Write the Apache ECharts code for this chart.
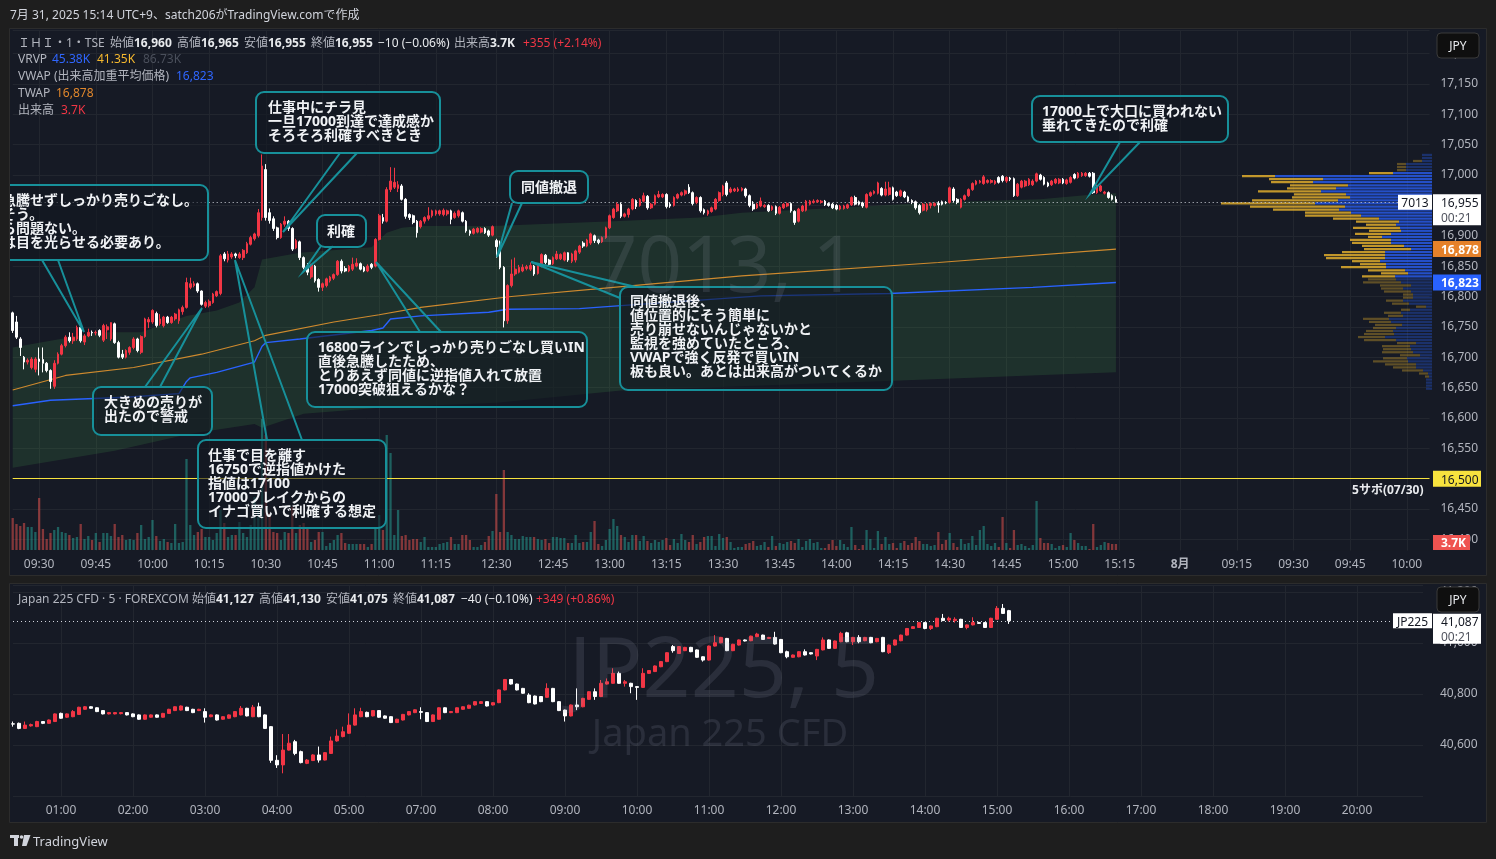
<!DOCTYPE html>
<html><head><meta charset="utf-8">
<script src="https://cdn.jsdelivr.net/npm/echarts@6/dist/echarts.min.js"></script>
<style>html,body{margin:0;padding:0;background:#1e1e1e;}#c{width:1496px;height:859px;}</style>
</head><body><div id="c"></div>
<script>
const FONT = '"Noto Sans","Noto Sans CJK JP",sans-serif';

// ---------- time slots (categories) ----------
const ihiSessionsDay1 = [['09:23','11:30'],['12:30','15:30']];
const ihiSessionsDay2 = [['09:00','10:06']];
const ihiTickLabels = ['09:30','09:45','10:00','10:15','10:30','10:45','11:00','11:15','12:30','12:45','13:00','13:15','13:30','13:45','14:00','14:15','14:30','14:45','15:00','15:15','8/1 09:00','8/1 09:15','8/1 09:30','8/1 09:45','8/1 10:00'];
const jpSessions = [['00:20','05:55'],['07:00','20:55']];
const jpTickLabels = ['01:00','02:00','03:00','04:00','05:00','07:00','08:00','09:00','10:00','11:00','12:00','13:00','14:00','15:00','16:00','17:00','18:00','19:00','20:00'];

// ---------- IHI 1-minute candles [open, close, low, high] ----------
const ihiOHLC = [
[16773,16744,16740,16775],[16758,16733,16730,16768],[16730,16716,16702,16733],[16700,16692,16680,16702],[16692,16695,16688,16698],
[16683,16697,16680,16700],[16680,16697,16675,16700],[16697,16693,16670,16716],[16696,16690,16675,16716],[16690,16678,16675,16692],
[16678,16660,16648,16680],[16652,16690,16648,16695],[16690,16705,16688,16708],[16705,16719,16703,16722],[16719,16733,16716,16736],
[16733,16727,16724,16741],[16727,16733,16722,16740],[16730,16749,16727,16752],[16749,16727,16724,16752],[16725,16735,16720,16738],
[16735,16741,16733,16747],[16741,16740,16735,16744],[16740,16741,16736,16744],[16744,16736,16733,16746],[16728,16752,16725,16755],
[16745,16750,16730,16754],[16730,16757,16727,16757],[16755,16724,16722,16757],[16724,16700,16698,16727],[16705,16700,16697,16712],
[16700,16711,16698,16713],[16708,16716,16704,16718],[16716,16730,16713,16733],[16730,16711,16708,16732],[16708,16734,16705,16736],
[16734,16763,16732,16765],[16758,16762,16748,16766],[16758,16777,16755,16779],[16772,16752,16749,16775],[16755,16763,16752,16771],
[16752,16766,16749,16768],[16766,16757,16755,16768],[16757,16766,16755,16768],[16763,16771,16760,16773],[16760,16778,16755,16780],
[16775,16782,16770,16785],[16782,16823,16780,16831],[16815,16821,16812,16831],[16818,16821,16815,16825],[16821,16809,16806,16823],
[16809,16787,16785,16810],[16784,16790,16781,16793],[16785,16792,16782,16795],[16790,16804,16788,16806],[16801,16808,16799,16810],
[16805,16867,16802,16870],[16870,16862,16858,16873],[16860,16870,16856,16875],[16865,16870,16862,16873],[16870,16867,16863,16872],
[16864,16870,16862,16873],[16864,16876,16860,16878],[16872,16887,16870,16890],[16886,16897,16884,16900],[16895,16903,16892,16905],
[16900,16938,16897,16944],[16930,17015,16925,17034],[17009,16930,16925,17018],[16938,16925,16920,16945],[16928,16912,16908,16932],
[16913,16897,16894,16915],[16897,16919,16895,16921],[16919,16924,16915,16932],[16924,16912,16908,16926],[16912,16878,16875,16914],
[16880,16892,16878,16895],[16890,16864,16860,16892],[16864,16848,16845,16866],[16850,16840,16835,16855],[16832,16852,16829,16854],
[16850,16826,16823,16852],[16828,16815,16808,16830],[16815,16821,16809,16823],[16818,16829,16815,16831],[16826,16832,16823,16834],
[16830,16836,16827,16838],[16836,16858,16834,16860],[16858,16842,16838,16861],[16846,16842,16840,16850],[16842,16850,16840,16852],
[16845,16853,16842,16864],[16850,16855,16848,16863],[16854,16845,16843,16856],[16848,16842,16840,16850],[16842,16850,16840,16853],
[16853,16848,16845,16855],[16850,16894,16848,16896],[16894,16933,16892,16936],[16930,16924,16920,16936],[16924,16976,16922,16980],
[16976,16990,16972,17013],[16980,16988,16977,17012],[16978,16984,16972,16990],[16982,16960,16958,16985],[16960,16932,16928,16962],
[16935,16930,16926,16937],[16933,16922,16919,16935],[16924,16905,16897,16926],[16915,16924,16912,16926],[16924,16930,16920,16932],
[16928,16933,16925,16947],[16933,16941,16930,16943],[16936,16941,16933,16943],[16936,16941,16933,16943],[16935,16942,16932,16945],
[16936,16941,16933,16943],[16941,16927,16919,16943],[16930,16937,16928,16940],[16933,16941,16930,16943],[16938,16924,16922,16940],
[16924,16908,16905,16926],[16908,16904,16900,16910],[16904,16911,16902,16913],[16906,16912,16904,16914],[16906,16912,16904,16914],
[16912,16905,16903,16914],[16908,16901,16898,16910],[16901,16915,16899,16917],[16892,16882,16864,16895],[16882,16848,16845,16892],
[16848,16760,16749,16850],[16760,16818,16755,16820],[16818,16837,16815,16861],[16837,16845,16834,16864],[16840,16848,16838,16852],
[16842,16848,16840,16853],[16846,16849,16843,16852],[16845,16851,16842,16856],[16850,16837,16834,16852],[16838,16851,16836,16853],
[16850,16869,16848,16871],[16868,16856,16853,16870],[16860,16853,16850,16862],[16854,16864,16852,16866],[16862,16870,16860,16875],
[16862,16869,16860,16871],[16860,16872,16858,16874],[16872,16860,16857,16873],[16858,16870,16855,16872],[16860,16875,16856,16877],
[16873,16883,16870,16885],[16888,16883,16880,16891],[16883,16893,16881,16895],[16888,16903,16885,16905],[16900,16892,16888,16902],
[16893,16889,16886,16895],[16890,16897,16888,16899],[16897,16913,16895,16915],[16913,16933,16911,16935],[16930,16944,16928,16946],
[16941,16952,16939,16955],[16952,16932,16929,16955],[16932,16936,16930,16938],[16935,16944,16930,16946],[16944,16960,16942,16962],
[16958,16948,16944,16960],[16950,16960,16948,16962],[16957,16966,16955,16971],[16965,16946,16943,16967],[16946,16952,16944,16954],
[16952,16966,16950,16968],[16964,16968,16962,16974],[16964,16968,16962,16970],[16968,16948,16945,16970],[16952,16949,16946,16955],
[16950,16963,16948,16965],[16962,16968,16960,16970],[16967,16971,16965,16973],[16969,16974,16966,16976],[16980,16971,16969,16985],
[16971,16953,16950,16973],[16955,16963,16952,16965],[16963,16941,16938,16965],[16943,16938,16935,16945],[16936,16941,16933,16943],
[16940,16946,16938,16948],[16944,16960,16942,16962],[16958,16971,16956,16973],[16968,16982,16965,16984],[16987,16968,16965,16990],
[16972,16977,16970,16980],[16974,16977,16972,16979],[16974,16977,16972,16980],[16975,16978,16973,16980],[16977,16966,16963,16979],
[16966,16950,16947,16968],[16952,16944,16941,16957],[16946,16952,16944,16954],[16949,16957,16947,16963],[16948,16950,16946,16952],
[16950,16941,16939,16952],[16943,16948,16941,16950],[16948,16937,16934,16950],[16937,16947,16935,16949],[16946,16952,16944,16954],
[16949,16953,16947,16955],[16953,16941,16938,16955],[16940,16922,16918,16942],[16924,16944,16922,16946],[16941,16949,16939,16951],
[16942,16957,16940,16959],[16952,16957,16950,16959],[16955,16957,16953,16960],[16956,16958,16954,16960],[16955,16957,16953,16959],
[16957,16951,16949,16959],[16953,16950,16948,16955],[16952,16946,16944,16954],[16950,16944,16942,16952],[16944,16949,16942,16951],
[16945,16949,16943,16951],[16946,16951,16944,16953],[16951,16963,16949,16965],[16963,16952,16950,16966],[16956,16952,16950,16958],
[16954,16949,16946,16956],[16947,16968,16945,16970],[16966,16971,16964,16973],[16970,16973,16968,16975],[16970,16987,16968,16989],
[16978,16967,16965,16980],[16967,16977,16965,16989],[16968,16979,16966,16989],[16979,16960,16958,16981],[16972,16966,16964,16974],
[16966,16974,16964,16976],[16972,16964,16962,16974],[16964,16957,16955,16966],[16958,16955,16952,16960],[16956,16946,16943,16958],
[16950,16938,16935,16952],[16942,16952,16940,16954],[16943,16952,16940,16954],[16950,16953,16945,16955],[16950,16953,16948,16955],
[16953,16951,16938,16957],[16956,16952,16950,16958],[16955,16954,16952,16957],[16955,16979,16953,16981],[16977,16958,16955,16980],
[16960,16955,16952,16962],[16947,16960,16945,16962],[16960,16966,16958,16968],[16966,16976,16964,16978],[16976,16986,16974,16988],
[16985,16990,16983,16992],[16988,16990,16986,16992],[16986,16997,16984,17000],[16988,16991,16986,16993],[16988,16991,16986,16993],
[16986,16990,16984,16992],[16996,16988,16986,16998],[16998,16991,16988,17000],[16990,16996,16987,16998],[16995,16993,16990,16997],
[16994,16966,16964,16996],[16966,16985,16964,16987],[16980,16990,16978,16992],[16982,16990,16980,16992],[16984,16993,16982,16995],
[16984,16990,16982,16993],[16990,17002,16988,17004],[17000,16993,16991,17002],[16996,16985,16983,16998],[16987,16982,16980,16989],
[16984,16990,16982,16992],[16987,16993,16985,16995],[16987,16993,16985,16995],[16993,16987,16985,16995],[16986,16992,16984,16994],
[16988,16996,16986,16998],[17001,16995,16993,17003],[16996,17003,16994,17005],[16999,17003,16997,17005],[16999,17003,16997,17005],
[17003,16998,16996,17005],[17003,16971,16969,17005],[16971,16982,16969,16984],[16974,16982,16972,16984],[16970,16972,16968,16974],
[16971,16963,16961,16973],[16966,16960,16958,16968],[16960,16955,16955,16965]
];

// ---------- IHI volume (relative bar heights as read) ----------
const ihiVolume = [
32,26,24,27,23,23,18, 52,
21,11,17,20,23,18,17,15,12,13,26,11,14,10,17,8,17,17,14,26,13,15,10,11,10,17,25,11,13,30,14,9,11,8,7,26,7,8,
91, 25,15,18,21,13,13,10,17, 40, 27,13,15,15,28,17,13,25, 53,40,131,115, 37,18,17,10,18,17, 43,
17,25,27,22,8,10,18,18,4,7,10,15,17,7,6,6,6,6,6,3,6,21,35,20, 115,97,15,40,
14,15,10,11,11,8,13,3,3,3,6,7,8,13,6,6,15,15,10,3,3,5,8,14,19, 56,18,80,
18,15,11,11,14,13,13,13,11,10,11,7,13,13,12,12,7,7,15,7,8,8,
18,29,6,4,10,21,31,24,15,13, 8,15,15,9,14,9,7,10,8,10, 12,5,11,7,16,10,8,15,6,8, 13,14,14,4,16,12,13,8,2,3,
3,6,7,9,4,5,8,3,14,4, 7,6,8,9,7,11,3,9,11,7, 8,2,2,6,10,4,10,6,3,23, 5,1,5,20,11,2,19,6,13,6,
7,2,7,9,5,7,13,9,6,6, 4,5,18,6,10,17,7,3,11,6, 7,14,5,20,24,6,4,7,3,33, 7,2,20,5,6,4,2,5,49,12,
7,7,6,2,4,5,3,17,10,7, 4,4,1,26,3,5,8,7,6,6
];

// ---------- VWAP / TWAP / VWAP band anchors [slotIndex, price] ----------
const vwapLine = [[0,16620],[10,16629],[30,16634],[44,16640],[46,16660],[47,16666],[54,16675],[64,16692],[66,16718],[67,16724],[76,16730],[95,16744],[98,16748],[100,16763],[108,16768],[126,16774],[131,16779],[150,16780],[161,16785],[198,16801],[232,16805],[270,16815],[292,16823]];
const twapLine = [[0,16646],[14,16670],[32,16683],[50,16705],[64,16727],[67,16736],[85,16758],[97,16770],[108,16782],[132,16800],[159,16815],[193,16834],[245,16856],[292,16878]];
const vwapBandUpper = [[0,16716],[10,16727],[23,16741],[34,16741],[46,16768],[54,16777],[60,16790],[64,16815],[66,16861],[76,16872],[95,16881],[99,16905],[103,16913],[108,16916],[127,16916],[159,16924],[182,16930],[193,16938],[219,16946],[245,16955],[272,16960],[286,16968],[292,16970]];
const vwapBandLower = [[0,16518],[27,16546],[47,16574],[64,16590],[66,16584],[77,16607],[98,16617],[128,16625],[161,16645],[233,16661],[292,16675]];

// ---------- VRVP (volume profile) rows, top row first, 5-yen bins ----------
const profileTopPrice = 17032.5;
const profileStep = 5;
const profileUp = [10,10,10,26,26,26,39,157,109,119,84,96,111,86,82,94,117,87,93,81,71,53,33,36,32,31,41,50,41,41,28,21,47,47,47,52,46,46,27,24,37,36,31,21,29,21,19,19,29,23,6,22,31,29,43,41,30,36,39,38,47,36,16,22,21,19,12,25,24,16,16,9,4,3,6,6,6,6];
const profileDown = [0,0,9,9,9,9,24,33,54,42,58,49,63,52,58,86,94,95,66,46,56,46,43,30,47,32,36,14,41,39,42,47,43,61,59,28,26,45,37,27,33,28,38,31,22,27,10,10,17,17,10,9,17,15,26,22,27,23,27,30,27,32,19,28,28,31,20,24,35,31,23,21,9,4,0,0,0,0];
const vaHigh = 17005, vaLow = 16832;

// ---------- JP225 5-minute candles [open, close, low, high] ----------
const jp225OHLC = [
[40683,40682,40672,40692],[40685,40665,40662,40688],[40665,40678,40663,40692],[40675,40680,40672,40684],[40672,40692,40670,40695],
[40692,40685,40682,40694],[40685,40698,40683,40700],[40692,40722,40690,40724],[40724,40705,40703,40727],[40709,40722,40706,40724],
[40711,40731,40709,40737],[40720,40748,40718,40750],[40740,40750,40738,40753],[40750,40744,40742,40752],[40746,40731,40729,40748],
[40735,40722,40720,40737],[40722,40727,40720,40729],[40722,40727,40720,40729],[40723,40727,40720,40729],[40727,40718,40716,40729],
[40722,40711,40709,40724],[40718,40701,40699,40720],[40701,40718,40699,40720],[40709,40718,40707,40720],[40718,40709,40707,40720],
[40709,40724,40707,40726],[40724,40740,40722,40742],[40735,40750,40733,40752],[40737,40753,40735,40755],[40748,40735,40733,40750],
[40740,40727,40725,40742],[40735,40740,40733,40742],[40731,40709,40688,40744],[40711,40718,40709,40720],[40718,40698,40696,40720],
[40701,40711,40699,40713],[40705,40718,40703,40720],[40711,40731,40709,40733],[40718,40744,40716,40753],[40744,40714,40712,40746],
[40711,40748,40709,40757],[40750,40711,40709,40766],[40718,40665,40663,40720],[40672,40540,40530,40674],[40540,40522,40510,40560],
[40522,40580,40489,40643],[40580,40607,40578,40643],[40613,40567,40560,40620],[40574,40531,40528,40578],[40528,40541,40525,40545],
[40539,40561,40537,40564],[40561,40541,40531,40594],[40541,40570,40539,40572],[40567,40616,40565,40633],[40616,40635,40613,40661],
[40633,40652,40630,40672],[40646,40678,40643,40724],[40678,40718,40676,40744],[40711,40731,40709,40746],[40728,40711,40709,40731],
[40714,40735,40712,40737],[40735,40709,40707,40737],[40714,40705,40703,40716],[40711,40688,40686,40713],[40688,40701,40686,40703],
[40698,40720,40696,40722],[40718,40731,40716,40733],[40727,40738,40725,40740],[40731,40728,40701,40748],[40727,40692,40690,40729],
[40692,40718,40690,40720],[40701,40746,40699,40748],[40746,40727,40725,40748],[40727,40731,40725,40733],[40727,40746,40725,40748],
[40740,40750,40738,40752],[40744,40756,40742,40758],[40757,40770,40755,40772],[40763,40770,40761,40772],[40770,40753,40751,40772],
[40757,40766,40755,40768],[40766,40816,40764,40818],[40816,40857,40814,40859],[40857,40839,40837,40859],[40839,40816,40814,40841],
[40822,40803,40801,40824],[40796,40766,40764,40803],[40792,40761,40759,40794],[40790,40770,40768,40792],[40787,40822,40785,40842],
[40822,40770,40768,40824],[40770,40735,40733,40772],[40737,40714,40692,40739],[40714,40757,40712,40759],[40757,40750,40737,40822],
[40750,40783,40748,40785],[40779,40809,40777,40811],[40809,40790,40777,40822],[40790,40842,40788,40855],[40839,40848,40837,40861],
[40842,40881,40840,40901],[40881,40842,40840,40888],[40842,40848,40829,40855],[40842,40829,40803,40844],[40829,40826,40777,40831],
[40826,40881,40824,40901],[40881,40892,40879,40894],[40888,40910,40886,40912],[40907,40927,40905,40929],[40927,40962,40925,40964],
[40986,40970,40962,40992],[40959,40986,40957,40988],[40970,40983,40968,40985],[40983,40966,40964,40985],[40973,40944,40942,40975],
[40946,40933,40927,40948],[40933,40988,40931,40990],[40988,41001,40986,41031],[41001,41022,40999,41024],[41018,40970,40968,41020],
[40970,40995,40968,40997],[40992,41012,40990,41014],[41012,41008,41006,41014],[41009,41027,41007,41029],[41025,41035,41023,41040],
[41031,41014,41012,41033],[41018,41022,41016,41024],[41022,40996,40994,41044],[41014,40962,40960,41016],[40966,40946,40940,40970],
[40944,40953,40942,40955],[40946,40966,40944,40968],[40966,40953,40951,40975],[40962,40957,40955,40964],[40949,40975,40933,40977],
[40973,41012,40971,41022],[41012,40979,40977,41014],[40979,41008,40977,41010],[41005,41038,41003,41044],[41040,41005,41003,41044],
[41005,41022,40992,41024],[41022,41005,40999,41031],[41009,41022,41007,41024],[41022,41001,40999,41024],[41005,41018,41003,41020],
[41022,40966,40964,41024],[40962,40992,40957,40994],[40992,41012,40990,41014],[41009,41031,41007,41033],[41031,41057,41029,41059],
[41057,41064,41055,41066],[41061,41080,41059,41082],[41080,41057,41054,41082],[41057,41067,41051,41069],[41064,41097,41062,41099],
[41097,41088,41086,41114],[41090,41097,41084,41103],[41088,41093,41080,41101],[41093,41061,41059,41095],[41061,41071,41054,41073],
[41071,41080,41069,41101],[41080,41077,41075,41083],[41080,41061,41059,41082],[41061,41097,41059,41099],[41093,41136,41091,41145],
[41136,41116,41114,41153],[41127,41087,41075,41130]
];

// ---------- reference levels ----------
const ihiLast = 16955, ihiTwapLast = 16878, ihiVwapLast = 16823, supportLevel = 16500, supportLabel = '5サポ(07/30)';
const jpLast = 41087;

// ---------- helpers ----------
function toMin(s){const [h,m]=s.split(':').map(Number);return h*60+m;}
function fmt(t){const h=Math.floor(t/60),m=t%60;return String(h).padStart(2,'0')+':'+String(m).padStart(2,'0');}
function buildSlots(ranges, step, prefix){const out=[];ranges.forEach(([a,b])=>{for(let t=toMin(a);t<=toMin(b);t+=step)out.push(prefix+fmt(t));});return out;}
const mainCats = buildSlots(ihiSessionsDay1,1,'').concat(buildSlots(ihiSessionsDay2,1,'8/1 '));
const jpCats = buildSlots(jpSessions,5,'');
const ihiTickSet = new Set(ihiTickLabels);
const jpTickSet = new Set(jpTickLabels);

const GRIDC = '#22262f';
const AXC = '#b2b5be';
const UP = '#f23645', DOWN = '#ffffff';
const TEAL = 'rgba(38,166,154,0.5)', REDV = 'rgba(239,83,80,0.5)';

const chart = echarts.init(document.getElementById('c'), null, {renderer:'canvas'});

const candleStyle = {color:UP, color0:DOWN, borderColor:UP, borderColor0:DOWN, borderColorDoji:DOWN, borderWidth:1};

const option = {
  backgroundColor:'#161a25',
  animation:false,
  textStyle:{fontFamily:FONT},
  grid:[
    {left:12.7, right:66.5, top:30, height:539.7},
    {left:12.7, right:66.5, top:410, height:140},
    {left:1132, right:64, top:30, height:539.7},
    {left:13, right:73, top:585, height:211}
  ],
  xAxis:[
    {gridIndex:0, type:'category', data:mainCats, boundaryGap:false, axisLine:{show:false}, axisTick:{show:false}, axisLabel:{show:false},
     splitLine:{show:true, interval:(i,v)=>ihiTickSet.has(v), lineStyle:{color:GRIDC, width:1}}},
    {gridIndex:1, type:'category', data:mainCats, boundaryGap:false, z:6, axisLine:{show:false}, axisTick:{show:false}, splitLine:{show:false},
     axisLabel:{show:true, interval:(i,v)=>ihiTickSet.has(v), color:AXC, fontSize:12, margin:9, fontFamily:FONT,
       formatter:v=> v==='8/1 09:00' ? '{b|8月}' : v.replace('8/1 ',''), rich:{b:{fontWeight:'bold', color:AXC, fontSize:12, fontFamily:FONT}}}},
    {gridIndex:2, type:'value', inverse:true, min:0, max:300, show:false},
    {gridIndex:3, type:'category', data:jpCats, boundaryGap:false, axisLine:{show:false}, axisTick:{show:false},
     splitLine:{show:true, interval:(i,v)=>jpTickSet.has(v), lineStyle:{color:GRIDC}},
     axisLabel:{show:true, interval:(i,v)=>jpTickSet.has(v), color:AXC, fontSize:12, margin:9, fontFamily:FONT}}
  ],
  yAxis:[
    {gridIndex:0, type:'value', position:'right', min:16350, max:17238.9, interval:50, axisLine:{show:false}, axisTick:{show:false},
     splitLine:{lineStyle:{color:GRIDC}},
     axisLabel:{color:AXC, fontSize:12, margin:11, padding:[4,0,0,0], fontFamily:FONT, formatter:v=> (Math.abs(v%50)<1e-6 && v>=16400) ? v.toLocaleString('en-US') : ''}},
    {gridIndex:1, type:'value', min:0, max:140, show:false},
    {gridIndex:2, type:'value', min:16350, max:17238.9, show:false},
    {gridIndex:3, type:'value', position:'right', min:40400, max:41227.5, interval:200, axisLine:{show:false}, axisTick:{show:false},
     splitLine:{lineStyle:{color:GRIDC}},
     axisLabel:{color:AXC, fontSize:12, margin:17, padding:[4,0,0,0], fontFamily:FONT, formatter:v=> (Math.abs(v%200)<1e-6 && v>40400) ? v.toLocaleString('en-US') : ''}}
  ],
  series:[
    {type:'custom', name:'VWAP band', xAxisIndex:0, yAxisIndex:0, data:vwapBandUpper, encode:{x:0,y:1}, z:1, silent:true,
     renderItem:(params, api)=>{
       if(params.dataIndex!==0) return null;
       const pts=[]; vwapBandUpper.forEach(d=>pts.push(api.coord(d)));
       vwapBandLower.slice().reverse().forEach(d=>pts.push(api.coord(d)));
       return {type:'polygon', shape:{points:pts}, style:{fill:'rgba(76,175,80,0.16)'}};
     }},
    {type:'line', name:'VWAP', xAxisIndex:0, yAxisIndex:0, data:vwapLine, symbol:'none', showSymbol:false, z:3, silent:true, lineStyle:{color:'#2962ff', width:1.4}},
    {type:'line', name:'TWAP', xAxisIndex:0, yAxisIndex:0, data:twapLine, symbol:'none', showSymbol:false, z:3, silent:true, lineStyle:{color:'#cf8a2e', width:1.1}},
    {type:'bar', name:'出来高', xAxisIndex:1, yAxisIndex:1, barWidth:2.3, z:2, silent:true,
     data: ihiVolume.map((v,i)=>({value:v, itemStyle:{color: (ihiOHLC[i] && ihiOHLC[i][1]>=ihiOHLC[i][0]) ? TEAL : REDV}}))},
    {type:'candlestick', name:'IHI', xAxisIndex:0, yAxisIndex:0, data:ihiOHLC, barWidth:2.2, z:5, itemStyle:candleStyle, silent:true,
     markLine:{symbol:['none','none'], silent:true, animation:false, data:[
       {yAxis:ihiLast, lineStyle:{type:[1,3], color:'#d1d4dc', width:1}, label:{show:false}},
       {yAxis:supportLevel, lineStyle:{type:'solid', color:'#f7e23e', width:1.2},
        label:{show:true, position:'insideEndBottom', formatter:supportLabel, color:'#e8eaed', fontWeight:'bold', fontSize:12, fontFamily:FONT, distance:6}}
     ]}},
    {type:'custom', name:'VRVP', xAxisIndex:2, yAxisIndex:2, encode:{x:0,y:1}, z:4, silent:true,
     data: profileUp.map((u,i)=>[u, profileTopPrice - i*profileStep, profileDown[i]]),
     renderItem:(params, api)=>{
       const up=api.value(0), p=api.value(1), dn=api.value(2);
       const base=api.coord([0,p]), pu=api.coord([up,p]), pd=api.coord([up+dn,p]);
       const yt=api.coord([0,p+profileStep/2])[1], yb=api.coord([0,p-profileStep/2])[1];
       const h=Math.max(1,yb-yt-0.8);
       const va = p<=vaHigh && p>=vaLow;
       return {type:'group', children:[
         {type:'rect', shape:{x:pu[0], y:yt, width:base[0]-pu[0], height:h}, style:{fill: va?'rgba(41,98,255,0.75)':'rgba(41,98,255,0.32)'}},
         {type:'rect', shape:{x:pd[0], y:yt, width:pu[0]-pd[0], height:h}, style:{fill: va?'rgba(251,192,45,0.75)':'rgba(251,192,45,0.32)'}}
       ]};
     }},
    {type:'candlestick', name:'JP225', xAxisIndex:3, yAxisIndex:3, data:jp225OHLC, barWidth:3.6, z:5, itemStyle:candleStyle, silent:true,
     markLine:{symbol:['none','none'], silent:true, animation:false, data:[
       {yAxis:jpLast, lineStyle:{type:[1,3], color:'#d1d4dc', width:1}, label:{show:false}}]}}
  ]
};
chart.setOption(option);

// ---------- graphics: frame, legends, annotations, price tags ----------
const yM = v => chart.convertToPixel({yAxisIndex:0}, v);
const yL = v => chart.convertToPixel({yAxisIndex:3}, v);
const G = [];
const TY = 1.5; // baseline correction for middle-aligned text
function R(x,y,w,h,fill,z,extra){G.push({type:'rect', silent:true, z:z, shape:{x,y,width:w,height:h,r:(extra&&extra.r)||0}, style:{fill:fill, stroke:(extra&&extra.stroke)||null, lineWidth:(extra&&extra.lw)||1}});}
function T(x,y,text,color,size,weight,align,z){G.push({type:'text', silent:true, z:z||45, x:x, y:y+TY, style:{text:text, fill:color, font:(weight||'normal')+' '+(size||12)+'px '+FONT, textAlign:align||'left', align:align||'left', textVerticalAlign:'middle', verticalAlign:'middle'}});}

// watermarks
T(725,268,'7013, 1','rgba(150,156,172,0.16)',78,'normal','center',0);
T(724,672,'JP225, 5','rgba(150,156,172,0.16)',84,'normal','center',0);
T(720,734,'Japan 225 CFD','rgba(150,156,172,0.16)',38,'normal','center',0);

// cover for main time-axis row
R(9,550.5,1423,25.5,'#161a25',1);

// callouts
const CALL_STROKE = '#17909a';
const callouts = [
  {box:[-30,185,238,75], x:2, y:200, lines:['急騰せずしっかり売りごなし。','そう。','ら問題ない。','は目を光らせる必要あり。'], ptr:[[42,260],[84,332],[58,260]]},
  {box:[256,92,184,61], x:268, y:107, lines:['仕事中にチラ見','一旦17000到達で達成感か','そろそろ利確すべきとき'], ptr:[[340,153],[283,232],[357,153]]},
  {box:[317,215,49,32], x:327, y:231, lines:['利確'], ptr:[[321,246],[303,272],[333,246]]},
  {box:[510,171,78,32], x:521, y:187, lines:['同値撤退'], ptr:[[512,203],[497,257],[522,203]]},
  {box:[1032,96,196,46], x:1042, y:111, lines:['17000上で大口に買われない','垂れてきたので利確'], ptr:[[1120,142],[1090,194],[1140,142]]},
  {box:[307,332,280,75], x:318, y:347, lines:['16800ラインでしっかり売りごなし買いIN','直後急騰したため、','とりあえず同値に逆指値入れて放置','17000突破狙えるかな？'], ptr:[[420,332],[376,262],[441,332]]},
  {box:[93,387,119,48], x:104, y:402, lines:['大きめの売りが','出たので警戒'], ptr:[[145,387],[202,308],[160,387]]},
  {box:[198,440,188,88], x:208, y:455, lines:['仕事で目を離す','16750で逆指値かけた','指値は17100','17000ブレイクからの','イナゴ買いで利確する想定'], ptr:[[267,440],[235,260],[302,440]]},
  {box:[620,287,272,103], x:630, y:301, lines:['同値撤退後、','値位置的にそう簡単に','売り崩せないんじゃないかと','監視を強めていたところ、','VWAPで強く反発で買いIN','板も良い。あとは出来高がついてくるか'], ptr:[[636,287],[531,262],[620,298]]}
];
callouts.forEach(c=>{
  G.push({type:'polyline', silent:true, z:20, shape:{points:c.ptr}, style:{stroke:CALL_STROKE, lineWidth:2, fill:null}});
  G.push({type:'rect', silent:true, z:21, shape:{x:c.box[0], y:c.box[1], width:c.box[2], height:c.box[3], r:8}, style:{fill:'rgba(19,23,34,0.6)', stroke:CALL_STROKE, lineWidth:2}});
  c.lines.forEach((l,i)=>T(c.x, c.y+i*14, l, '#f0f2f5', 14, 'bold', 'left', 22));
});

// outer frame
const FR = '#1e1e1e';
R(0,0,1496,28,FR,30); R(0,28,9,831,FR,30); R(1487,28,9,831,FR,30); R(0,576,1496,7,FR,30); R(0,823,1496,36,FR,30);
G.push({type:'rect', silent:true, z:31, shape:{x:9.5,y:28.5,width:1477,height:547}, style:{fill:null, stroke:'#2c2c2c', lineWidth:1}});
G.push({type:'rect', silent:true, z:31, shape:{x:9.5,y:583.5,width:1477,height:239}, style:{fill:null, stroke:'#2c2c2c', lineWidth:1}});

// header
T(10,14,'7月 31, 2025 15:14 UTC+9、satch206がTradingView.comで作成','#d1d4dc',12,'normal','left',45);

// main legend
const W='#e8eaed', GR='#b2b5be';
const last = ihiOHLC[ihiOHLC.length-1];
const fmtN = v => v.toLocaleString('en-US');
T(18,42,'ＩＨＩ・1・TSE',GR);
T(110,42,'始値',GR); T(134,42,fmtN(last[0]),W,12,'bold');
T(177,42,'高値',GR); T(201,42,fmtN(last[3]),W,12,'bold');
T(244,42,'安値',GR); T(268,42,fmtN(last[2]),W,12,'bold');
T(311,42,'終値',GR); T(335,42,fmtN(last[1]),W,12,'bold');
T(378,42,'−10 (−0.06%)',W,12,'normal');
T(454,42,'出来高',GR); T(490,42,'3.7K',W,12,'bold');
T(523,42,'+355 (+2.14%)','#f23645');
T(18,58,'VRVP',GR); T(52,58,'45.38K','#2f66ff'); T(97,58,'41.35K','#f5b82e'); T(143,58,'86.73K','#4a4f5b');
T(18,75,'VWAP (出来高加重平均価格)',GR); T(176,75,fmtN(ihiVwapLast),'#2f66ff');
T(18,92,'TWAP',GR); T(56,92,fmtN(ihiTwapLast),'#e0872c');
T(18,109,'出来高',GR); T(61,109,'3.7K','#f23645');

// lower legend
const jl = jp225OHLC[jp225OHLC.length-1];
T(18,598,'Japan 225 CFD · 5 · FOREXCOM',GR);
T(192,598,'始値',GR); T(216,598,fmtN(jl[0]),W,12,'bold');
T(259,598,'高値',GR); T(283,598,fmtN(jl[3]),W,12,'bold');
T(326,598,'安値',GR); T(350,598,fmtN(jl[2]),W,12,'bold');
T(393,598,'終値',GR); T(417,598,fmtN(jl[1]),W,12,'bold');
T(461,598,'−40 (−0.10%)',W,12,'normal');
T(536,598,'+349 (+0.86%)','#f23645');

// price tags main
R(1437,33,42,25,'#0f0f0f',40,{r:4,stroke:'#3a3a3a'}); T(1458,45.5,'JPY','#e8eaed',12,'normal','center',46);
const y955 = yM(ihiLast);
R(1398,y955-7.5,34,15,'#ffffff',40); T(1415,y955,'7013','#131722',12,'normal','center',46);
R(1433,y955-8,48,31,'#ffffff',40); T(1441,y955,fmtN(ihiLast),'#131722',12,'normal','left',46); T(1441,y955+15,'00:21','#50535e',12,'normal','left',46);
const y878 = yM(ihiTwapLast);
R(1433,y878-8,48,16,'#e5812a',40); T(1441,y878,fmtN(ihiTwapLast),'#ffffff',12,'bold','left',46);
const y823 = yM(ihiVwapLast);
R(1433,y823-8,48,16,'#2962ff',40); T(1441,y823,fmtN(ihiVwapLast),'#ffffff',12,'bold','left',46);
const y500 = yM(supportLevel);
R(1433,y500-8,48,16,'#f7e23e',40); T(1441,y500,fmtN(supportLevel),'#131722',12,'normal','left',46);
R(1433,535,37,15,'#ef5350',40); T(1441,542.5,'3.7K','#ffffff',12,'bold','left',46);

// price tags lower
R(1437,587,42,25,'#0f0f0f',40,{r:4,stroke:'#3a3a3a'}); T(1458,599.5,'JPY','#e8eaed',12,'normal','center',46);
const yj = yL(jpLast);
R(1393,yj-7.5,39,15,'#ffffff',40); T(1412.5,yj,'JP225','#131722',12,'normal','center',46);
R(1433,yj-7,48,30,'#ffffff',40); T(1441,yj,fmtN(jpLast),'#131722',12,'normal','left',46); T(1441,yj+15,'00:21','#50535e',12,'normal','left',46);

// footer logo
R(10,835,9,3,'#d1d4dc',46); R(14,835,4,11,'#d1d4dc',46);
G.push({type:'circle', silent:true, z:46, shape:{cx:21.5, cy:837, r:1.8}, style:{fill:'#d1d4dc'}});
G.push({type:'polygon', silent:true, z:46, shape:{points:[[24,835],[30.5,835],[26.5,846],[22,846]]}, style:{fill:'#d1d4dc'}});
T(33,841,'TradingView','#d1d4dc',13,'normal','left',46);

chart.setOption({graphic:{elements:G}});
</script>
</body></html>
